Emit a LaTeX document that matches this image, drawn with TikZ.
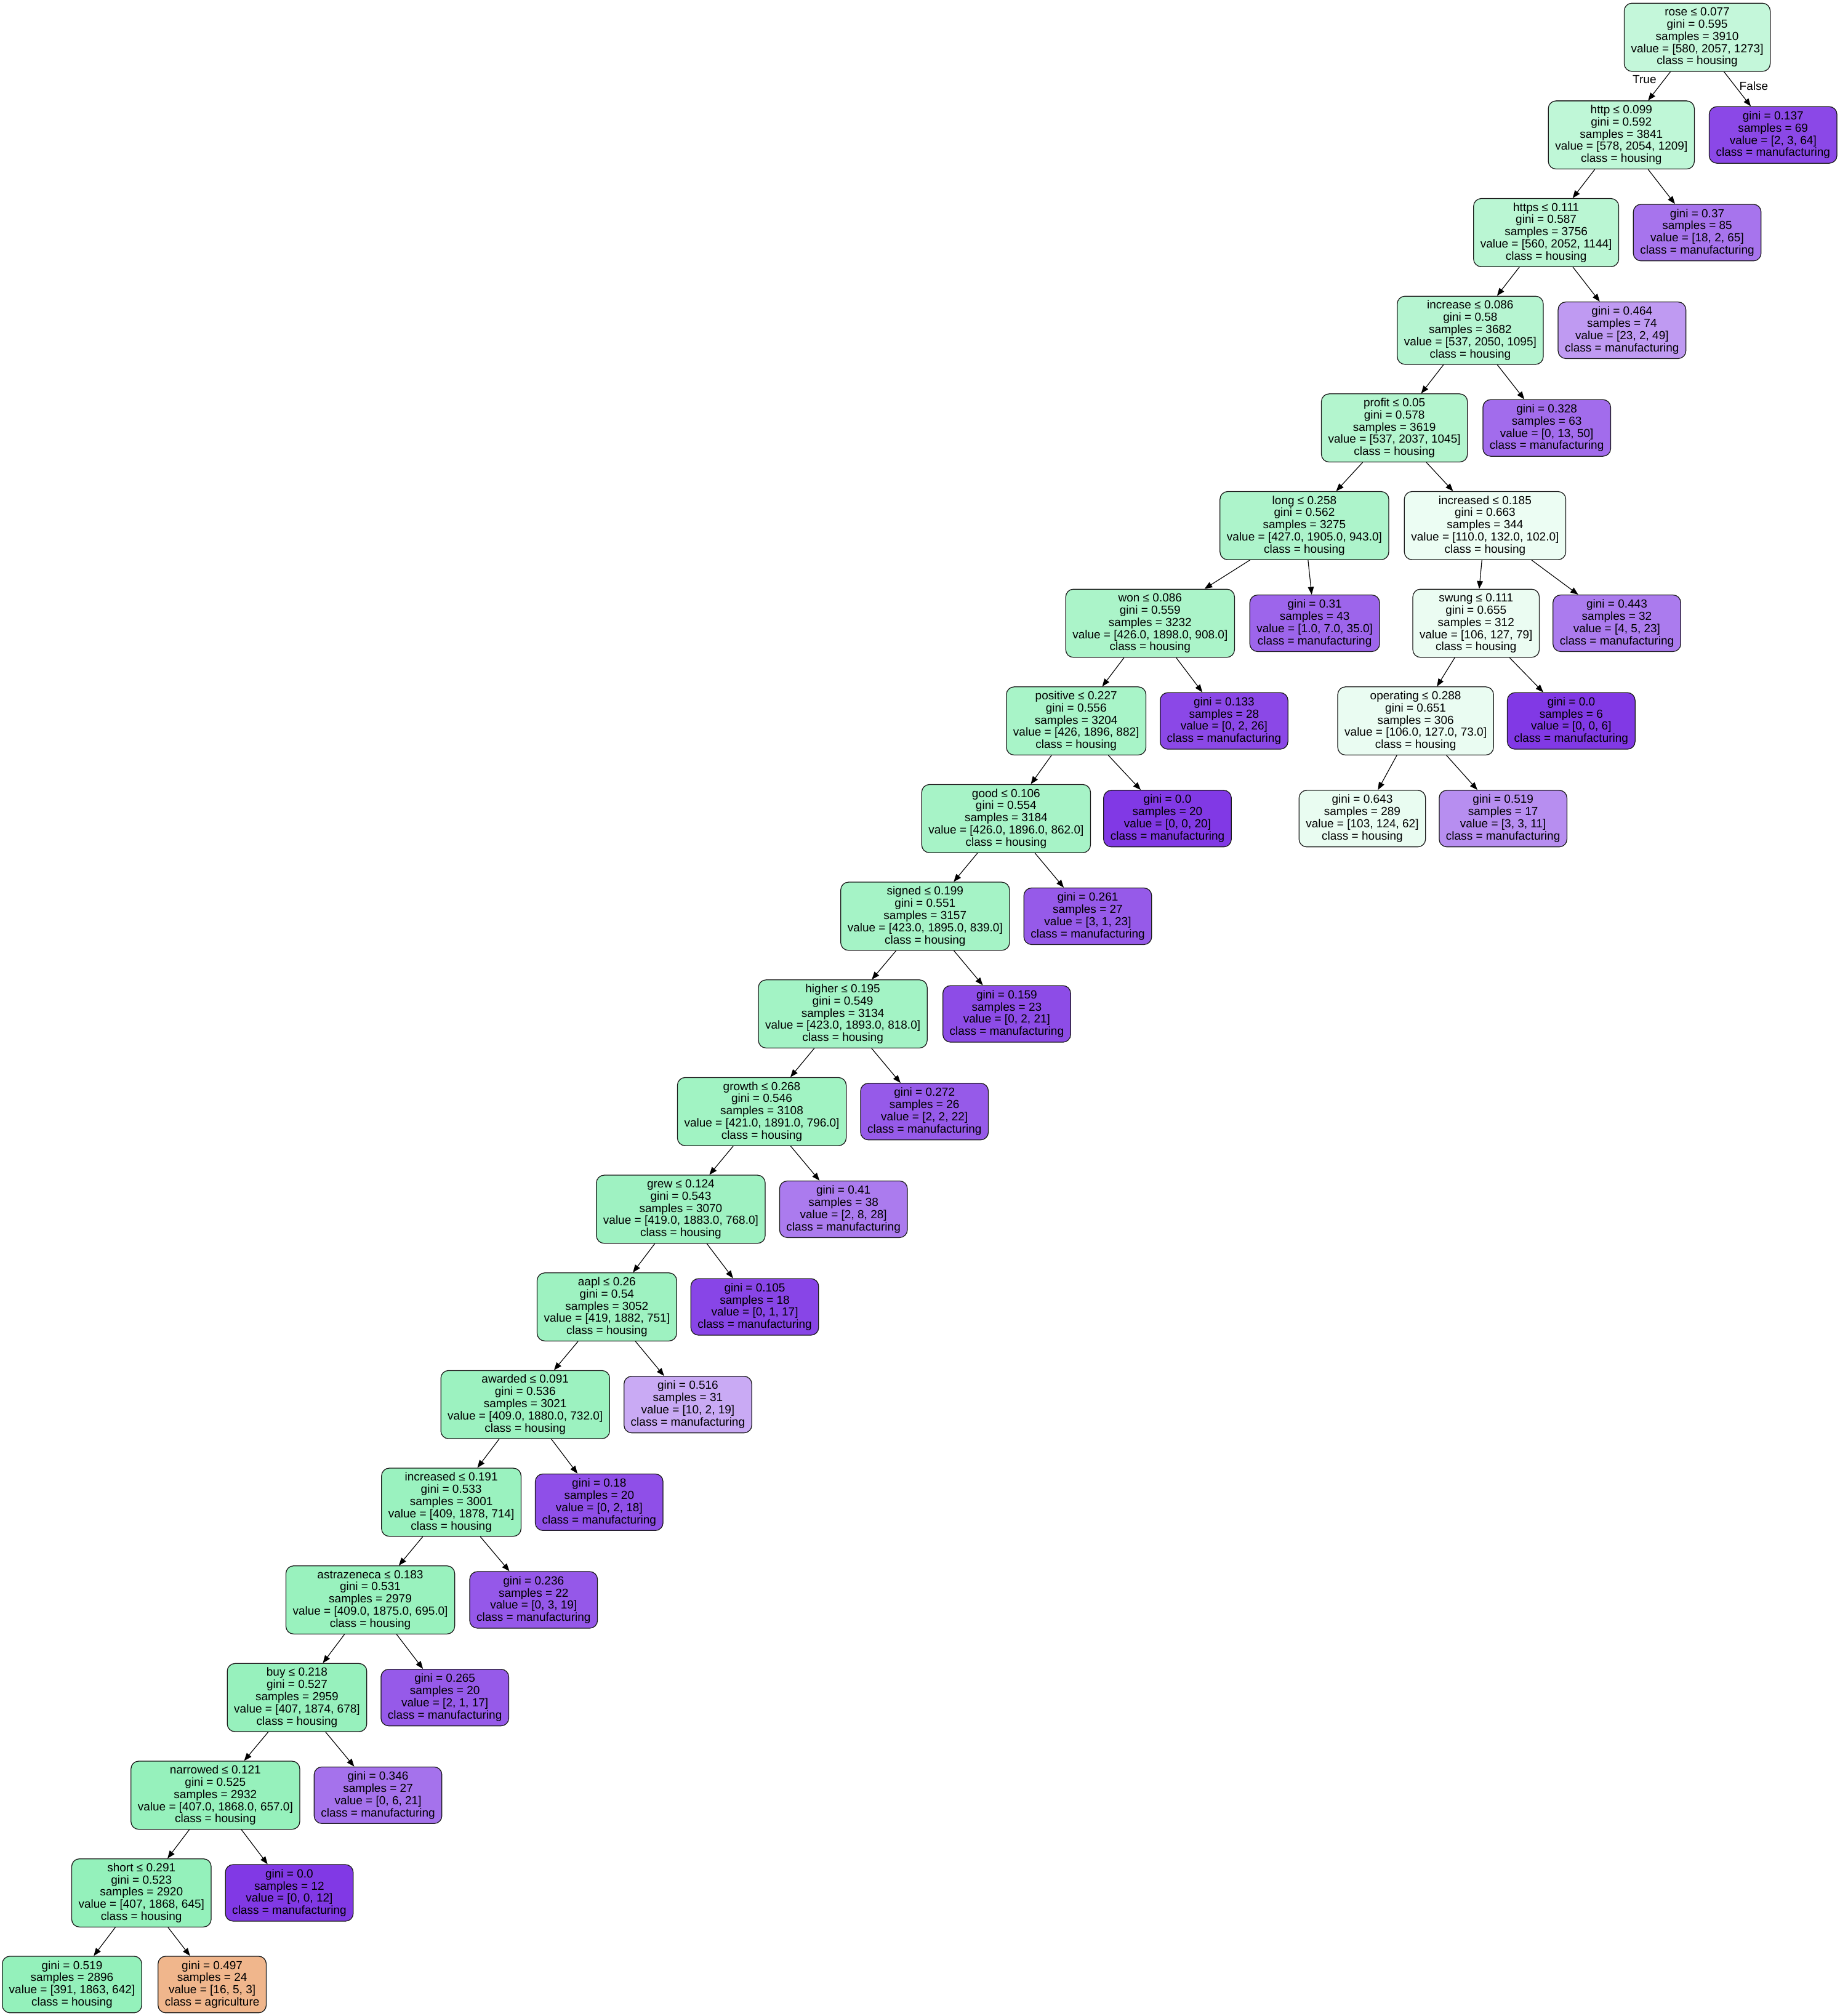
\documentclass[tikz,border=0pt]{standalone}
\usepackage{fontspec}
\setmainfont{Liberation Sans}
\usetikzlibrary{arrows.meta}
\definecolor{hous}{RGB}{57,229,129}
\definecolor{manu}{RGB}{129,57,229}
\definecolor{agri}{RGB}{229,129,57}
\newcommand\treefont{\fontsize{9.1pt}{9.5pt}\selectfont}
\tikzset{
  tn/.style={draw=black!90, line width=0.6pt, rounded corners=6pt, align=center,
    font=\treefont, inner xsep=5.3pt, inner ysep=0pt},
  inode/.style={tn, minimum height=53pt},
  lnode/.style={tn, minimum height=44pt},
  H/.style={fill=hous!#1!white},
  M/.style={fill=manu!#1!white},
  A/.style={fill=agri!#1!white},
  conn/.style={-{Triangle[length=6pt,width=4.6pt]}, line width=0.55pt, draw=black},
  elabel/.style={font=\treefont, inner sep=0pt}
}
\begin{document}
\begin{tikzpicture}[x=1pt,y=-1pt]
\fill[white] (0,0) rectangle (1431,1568);
\path[use as bounding box] (0,0) rectangle (1431,1568);

\node[inode,H=29.7] (n1) at (1320,29) {rose ≤ 0.077\\gini = 0.595\\samples = 3910\\value = [580, 2057, 1273]\\class = housing};
\node[inode,H=32.1] (n2) at (1261,104.96) {http ≤ 0.099\\gini = 0.592\\samples = 3841\\value = [578, 2054, 1209]\\class = housing};
\node[lnode,M=92.4] (n3) at (1379,104.96) {gini = 0.137\\samples = 69\\value = [2, 3, 64]\\class = manufacturing};
\node[inode,H=34.8] (n4) at (1202.5,180.92) {https ≤ 0.111\\gini = 0.587\\samples = 3756\\value = [560, 2052, 1144]\\class = housing};
\node[lnode,M=70.2] (n5) at (1320,180.92) {gini = 0.37\\samples = 85\\value = [18, 2, 65]\\class = manufacturing};
\node[inode,H=36.9] (n6) at (1143.5,256.88) {increase ≤ 0.086\\gini = 0.58\\samples = 3682\\value = [537, 2050, 1095]\\class = housing};
\node[lnode,M=51.0] (n7) at (1261.5,256.88) {gini = 0.464\\samples = 74\\value = [23, 2, 49]\\class = manufacturing};
\node[inode,H=38.5] (n8) at (1084.5,332.84) {profit ≤ 0.05\\gini = 0.578\\samples = 3619\\value = [537, 2037, 1045]\\class = housing};
\node[lnode,M=74.0] (n9) at (1203,332.84) {gini = 0.328\\samples = 63\\value = [0, 13, 50]\\class = manufacturing};
\node[inode,H=41.3] (n10) at (1014.5,408.8) {long ≤ 0.258\\gini = 0.562\\samples = 3275\\value = [427.0, 1905.0, 943.0]\\class = housing};
\node[inode,H=9.4] (n11) at (1155,408.8) {increased ≤ 0.185\\gini = 0.663\\samples = 344\\value = [110.0, 132.0, 102.0]\\class = housing};
\node[inode,H=42.6] (n12) at (894.5,484.76) {won ≤ 0.086\\gini = 0.559\\samples = 3232\\value = [426.0, 1898.0, 908.0]\\class = housing};
\node[lnode,M=77.8] (n13) at (1022.5,484.76) {gini = 0.31\\samples = 43\\value = [1.0, 7.0, 35.0]\\class = manufacturing};
\node[inode,H=10.2] (n14) at (1148,484.76) {swung ≤ 0.111\\gini = 0.655\\samples = 312\\value = [106, 127, 79]\\class = housing};
\node[lnode,M=66.7] (n15) at (1257.5,484.76) {gini = 0.443\\samples = 32\\value = [4, 5, 23]\\class = manufacturing};
\node[inode,H=43.7] (n16) at (837,560.72) {positive ≤ 0.227\\gini = 0.556\\samples = 3204\\value = [426, 1896, 882]\\class = housing};
\node[lnode,M=92.3] (n17) at (952,560.72) {gini = 0.133\\samples = 28\\value = [0, 2, 26]\\class = manufacturing};
\node[inode,H=10.5] (n18) at (1101,560.72) {operating ≤ 0.288\\gini = 0.651\\samples = 306\\value = [106.0, 127.0, 73.0]\\class = housing};
\node[lnode,M=100] (n19) at (1222,560.72) {gini = 0.0\\samples = 6\\value = [0, 0, 6]\\class = manufacturing};
\node[inode,H=44.5] (n20) at (782.5,636.68) {good ≤ 0.106\\gini = 0.554\\samples = 3184\\value = [426.0, 1896.0, 862.0]\\class = housing};
\node[lnode,M=100] (n21) at (908,636.68) {gini = 0.0\\samples = 20\\value = [0, 0, 20]\\class = manufacturing};
\node[lnode,H=11.3] (n22) at (1059.5,636.68) {gini = 0.643\\samples = 289\\value = [103, 124, 62]\\class = housing};
\node[lnode,M=57.1] (n23) at (1169,636.68) {gini = 0.519\\samples = 17\\value = [3, 3, 11]\\class = manufacturing};
\node[inode,H=45.6] (n24) at (719.5,712.64) {signed ≤ 0.199\\gini = 0.551\\samples = 3157\\value = [423.0, 1895.0, 839.0]\\class = housing};
\node[lnode,M=83.3] (n25) at (846,712.64) {gini = 0.261\\samples = 27\\value = [3, 1, 23]\\class = manufacturing};
\node[inode,H=46.4] (n26) at (655.5,788.6) {higher ≤ 0.195\\gini = 0.549\\samples = 3134\\value = [423.0, 1893.0, 818.0]\\class = housing};
\node[lnode,M=90.5] (n27) at (783,788.6) {gini = 0.159\\samples = 23\\value = [0, 2, 21]\\class = manufacturing};
\node[inode,H=47.4] (n28) at (592.5,864.56) {growth ≤ 0.268\\gini = 0.546\\samples = 3108\\value = [421.0, 1891.0, 796.0]\\class = housing};
\node[lnode,M=83.3] (n29) at (719,864.56) {gini = 0.272\\samples = 26\\value = [2, 2, 22]\\class = manufacturing};
\node[inode,H=48.4] (n30) at (529.5,940.52) {grew ≤ 0.124\\gini = 0.543\\samples = 3070\\value = [419.0, 1883.0, 768.0]\\class = housing};
\node[lnode,M=66.7] (n31) at (656,940.52) {gini = 0.41\\samples = 38\\value = [2, 8, 28]\\class = manufacturing};
\node[inode,H=49.2] (n32) at (472,1016.48) {aapl ≤ 0.26\\gini = 0.54\\samples = 3052\\value = [419, 1882, 751]\\class = housing};
\node[lnode,M=94.1] (n33) at (587,1016.48) {gini = 0.105\\samples = 18\\value = [0, 1, 17]\\class = manufacturing};
\node[inode,H=50.2] (n34) at (408.5,1092.44) {awarded ≤ 0.091\\gini = 0.536\\samples = 3021\\value = [409.0, 1880.0, 732.0]\\class = housing};
\node[lnode,M=42.9] (n35) at (535,1092.44) {gini = 0.516\\samples = 31\\value = [10, 2, 19]\\class = manufacturing};
\node[inode,H=50.9] (n36) at (351,1168.4) {increased ≤ 0.191\\gini = 0.533\\samples = 3001\\value = [409, 1878, 714]\\class = housing};
\node[lnode,M=88.9] (n37) at (466,1168.4) {gini = 0.18\\samples = 20\\value = [0, 2, 18]\\class = manufacturing};
\node[inode,H=51.7] (n38) at (288,1244.36) {astrazeneca ≤ 0.183\\gini = 0.531\\samples = 2979\\value = [409.0, 1875.0, 695.0]\\class = housing};
\node[lnode,M=84.2] (n39) at (415,1244.36) {gini = 0.236\\samples = 22\\value = [0, 3, 19]\\class = manufacturing};
\node[inode,H=52.4] (n40) at (231,1320.32) {buy ≤ 0.218\\gini = 0.527\\samples = 2959\\value = [407, 1874, 678]\\class = housing};
\node[lnode,M=83.3] (n41) at (346,1320.32) {gini = 0.265\\samples = 20\\value = [2, 1, 17]\\class = manufacturing};
\node[inode,H=53.2] (n42) at (167.5,1396.28) {narrowed ≤ 0.121\\gini = 0.525\\samples = 2932\\value = [407.0, 1868.0, 657.0]\\class = housing};
\node[lnode,M=71.4] (n43) at (294,1396.28) {gini = 0.346\\samples = 27\\value = [0, 6, 21]\\class = manufacturing};
\node[inode,H=53.8] (n44) at (110,1472.24) {short ≤ 0.291\\gini = 0.523\\samples = 2920\\value = [407, 1868, 645]\\class = housing};
\node[lnode,M=100] (n45) at (225,1472.24) {gini = 0.0\\samples = 12\\value = [0, 0, 12]\\class = manufacturing};
\node[lnode,H=54.2] (n46) at (56,1543.5) {gini = 0.519\\samples = 2896\\value = [391, 1863, 642]\\class = housing};
\node[lnode,A=57.9] (n47) at (165,1543.5) {gini = 0.497\\samples = 24\\value = [16, 5, 3]\\class = agriculture};

\node[elabel] (lblT) at (1279,62) {True};
\node[elabel] (lblF) at (1364,67) {False};

\foreach \p/\c in {n1/n2,n1/n3,n2/n4,n2/n5,n4/n6,n4/n7,n6/n8,n6/n9,n8/n10,n8/n11,
  n10/n12,n10/n13,n11/n14,n11/n15,n12/n16,n12/n17,n14/n18,n14/n19,n16/n20,n16/n21,
  n18/n22,n18/n23,n20/n24,n20/n25,n24/n26,n24/n27,n26/n28,n26/n29,n28/n30,n28/n31,
  n30/n32,n30/n33,n32/n34,n32/n35,n34/n36,n34/n37,n36/n38,n36/n39,n38/n40,n38/n41,
  n40/n42,n40/n43,n42/n44,n42/n45,n44/n46,n44/n47}
  \draw[conn] (\p) -- (\c);
\end{tikzpicture}
\end{document}
